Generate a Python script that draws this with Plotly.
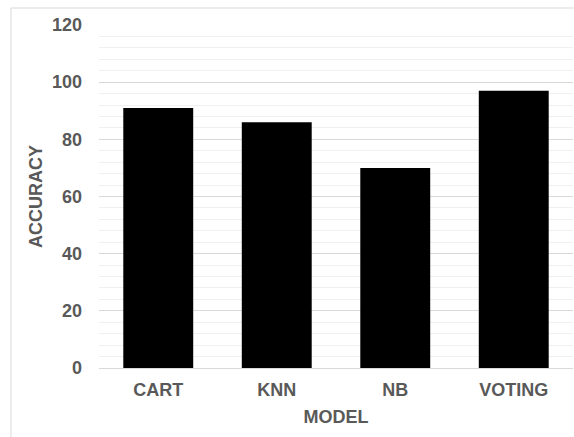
import plotly.graph_objects as go

models = ["CART", "KNN", "NB", "VOTING"]
accuracy = [91, 86, 70, 97]
y_ticks = [0, 20, 40, 60, 80, 100, 120]

W, H = 574, 437
L, R, T, B = 99, 1, 25, 69
pw, ph = W - L - R, H - T - B

def px(x):
    return (x - L) / pw

def py(y):
    return (H - B - y) / ph

font_family = "Liberation Sans, Arial, sans-serif"
grey = "#595959"

fig = go.Figure(go.Bar(x=models, y=accuracy, marker=dict(color="black", line=dict(width=0))))

fig.update_layout(
    width=W, height=H,
    margin=dict(l=L, r=R, t=T, b=B, pad=0),
    paper_bgcolor="white", plot_bgcolor="white",
    bargap=0.41,
    showlegend=False,
    font=dict(family=font_family, size=18, color=grey),
    shapes=[dict(type="rect", xref="paper", yref="paper",
                 x0=px(11), x1=px(590), y0=py(450), y1=py(8),
                 line=dict(color="#d9d9d9", width=1), layer="below")],
)
fig.update_xaxes(
    showgrid=False, zeroline=False, showline=False, ticks="",
    ticklabelstandoff=9,
    tickfont=dict(family=font_family, size=18, color=grey, weight="bold"),
    title=dict(text="MODEL", font=dict(family=font_family, size=18, color=grey, weight="bold"), standoff=11),
)
fig.update_yaxes(
    range=[0, 120], tickvals=y_ticks, ticktext=[str(v) for v in y_ticks],
    showgrid=True, gridcolor="#d9d9d9", gridwidth=1,
    minor=dict(dtick=4, tick0=0, showgrid=True, gridcolor="#f0f0f0", gridwidth=1),
    zeroline=True, zerolinecolor="#d9d9d9", zerolinewidth=1,
    showline=False, ticks="",
    ticklabelstandoff=16,
    tickfont=dict(family=font_family, size=18, color=grey, weight="bold"),
    title=dict(text="ACCURACY", font=dict(family=font_family, size=18, color=grey, weight="bold"), standoff=4),
)

fig.write_html("out.html")
